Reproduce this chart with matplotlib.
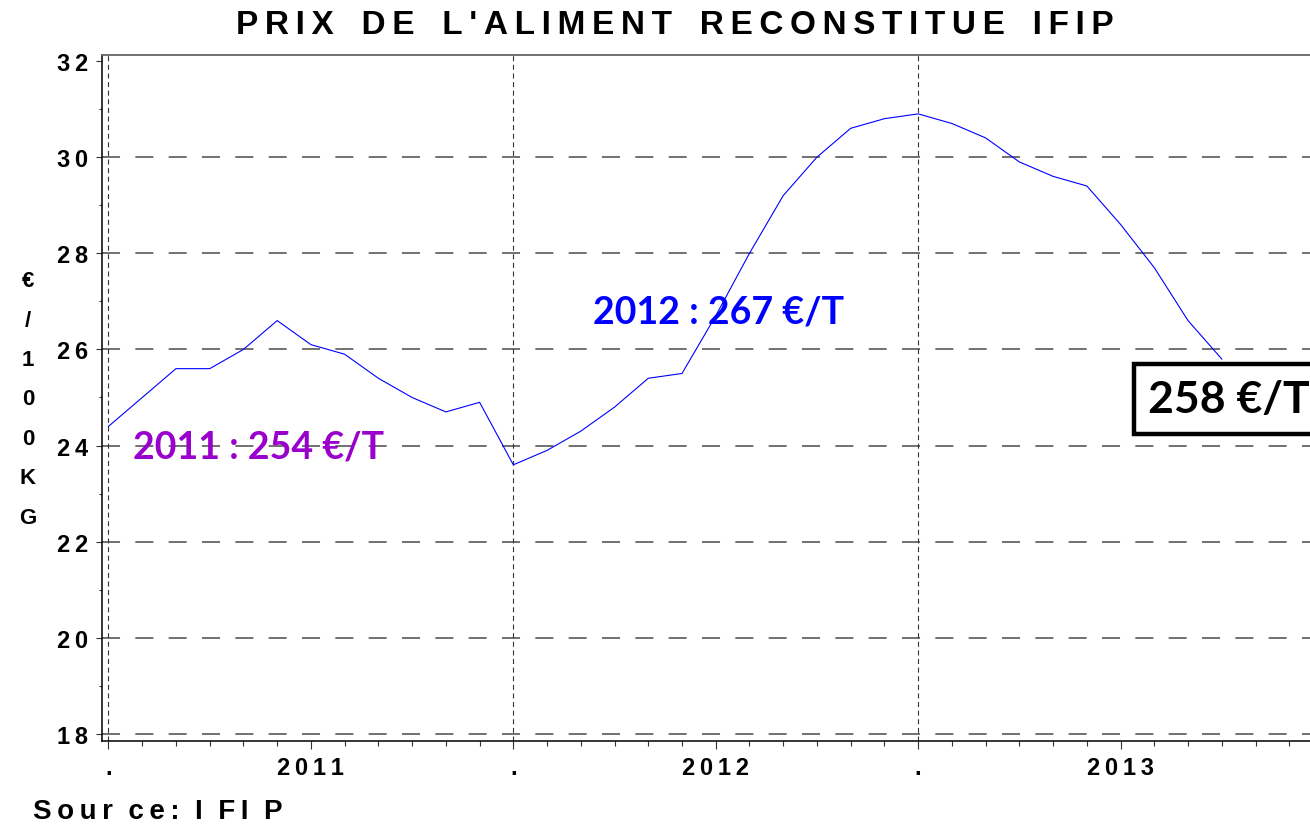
import matplotlib
matplotlib.use('Agg')
import matplotlib.pyplot as plt
from matplotlib.ticker import FixedLocator

plt.rcParams['lines.scale_dashes'] = False

# ---- data ----
months = list(range(34))
prices = [24.4, 25.0, 25.6, 25.6, 26.0, 26.6, 26.1, 25.9, 25.4, 25.0, 24.7, 24.9,
          23.6, 23.9, 24.3, 24.8, 25.4, 25.5, 26.7, 28.0, 29.2, 30.0, 30.6, 30.8,
          30.9, 30.7, 30.4, 29.9, 29.6, 29.4, 28.6, 27.7, 26.6, 25.8]
year_starts = [0, 12, 24]
year_mids = [6, 18, 30]
year_labels = ['2011', '2012', '2013']
yticks = [18, 20, 22, 24, 26, 28, 30, 32]
grid_levels = [18, 20, 22, 24, 26, 28, 30]
title = "PRIX DE L'ALIMENT RECONSTITUE IFIP"
ylabel = "€/100KG"
source = "Sour ce: I FI P"
ann_2011 = "2011 : 254 €/T"
ann_2012 = "2012 : 267 €/T"
ann_2013 = "258 €/T"

THIN = '\u2009'
def spaced(s, gap=' '):
    return gap.join(THIN.join(w) for w in s.split(' '))

W, H = 1310, 829
fig = plt.figure(figsize=(W / 100, H / 100), dpi=100)
ax = fig.add_axes([101.5 / W, 87 / H, 1 - 101.5 / W, 686 / H])

ax.set_xlim(-7 / 33.75, (W - 108) / 33.75)
ax.set_ylim(18 - 7 / 48.07, 32 + 6 / 48.07)

for v in grid_levels:
    ax.axhline(v, color='#666666', lw=1.3, linestyle=(0, (13, 11)), zorder=1)
for v in year_starts:
    ax.axvline(v, color='#333333', lw=0.8, linestyle=(0, (3.6, 2.6)), zorder=1)

ax.plot(months, prices, color='#0000FF', lw=0.8, zorder=3)

# spines
ax.spines['right'].set_visible(False)
ax.spines['top'].set_color('#666666')
ax.spines['top'].set_linewidth(1.3)
ax.spines['left'].set_linewidth(1.1)
ax.spines['bottom'].set_linewidth(1.1)

lbl_font = dict(family=['Liberation Sans', 'DejaVu Sans'], weight='bold', size=17)

ax.set_yticks(yticks)
ax.set_yticklabels([spaced(str(v)) for v in yticks], fontdict=lbl_font)
ax.yaxis.set_minor_locator(FixedLocator([v + 1 for v in yticks[:-1]]))
ax.tick_params(axis='y', which='major', length=4.5, width=0.8, color='#333333', pad=5)
ax.tick_params(axis='y', which='minor', length=2.2, width=0.8, color='#333333')

xt = sorted(year_starts + year_mids)
xl = []
for t in xt:
    if t in year_starts:
        xl.append('.')
    else:
        xl.append(spaced(year_labels[year_mids.index(t)]))
ax.set_xticks(xt)
ax.set_xticklabels(xl, fontdict=lbl_font)
ax.xaxis.set_minor_locator(FixedLocator(months + [34, 35]))
ax.tick_params(axis='x', which='major', length=5.5, width=0.8, color='#333333', pad=5)
ax.tick_params(axis='x', which='minor', length=3.6, width=0.8, color='#333333')

# title, y label, source
fig.text(675 / W, 1 - 25 / H, spaced(title, gap='   '), ha='center', va='center',
         family=['Liberation Sans', 'DejaVu Sans'], weight='bold', size=24)
fig.text(28 / W, 1 - 400 / H, '\n'.join(ylabel), ha='center', va='center',
         family=['Liberation Sans', 'DejaVu Sans'], weight='bold', size=16,
         linespacing=2.15)
fig.text(33 / W, 1 - 812 / H, spaced(source, gap='  '), ha='left', va='center',
         family=['Liberation Sans', 'DejaVu Sans'], weight='bold', size=20)

# annotations
ax.text(0.74, 23.99, ann_2011, color='#9900CC', family='Lato', weight='bold',
        size=27, ha='left', va='center', zorder=5)
ax.text(14.37, 26.78, ann_2012, color='#0000FF', family='Lato', weight='bold',
        size=27, ha='left', va='center', zorder=5)
ax.text(30.82, 24.97, ann_2013, color='black', family='Lato', weight='bold',
        size=32, ha='left', va='center', zorder=6, clip_on=False,
        bbox=dict(boxstyle='square,pad=0.33', fc='white', ec='black', lw=3.2))

fig.savefig('out.png', dpi=100)
